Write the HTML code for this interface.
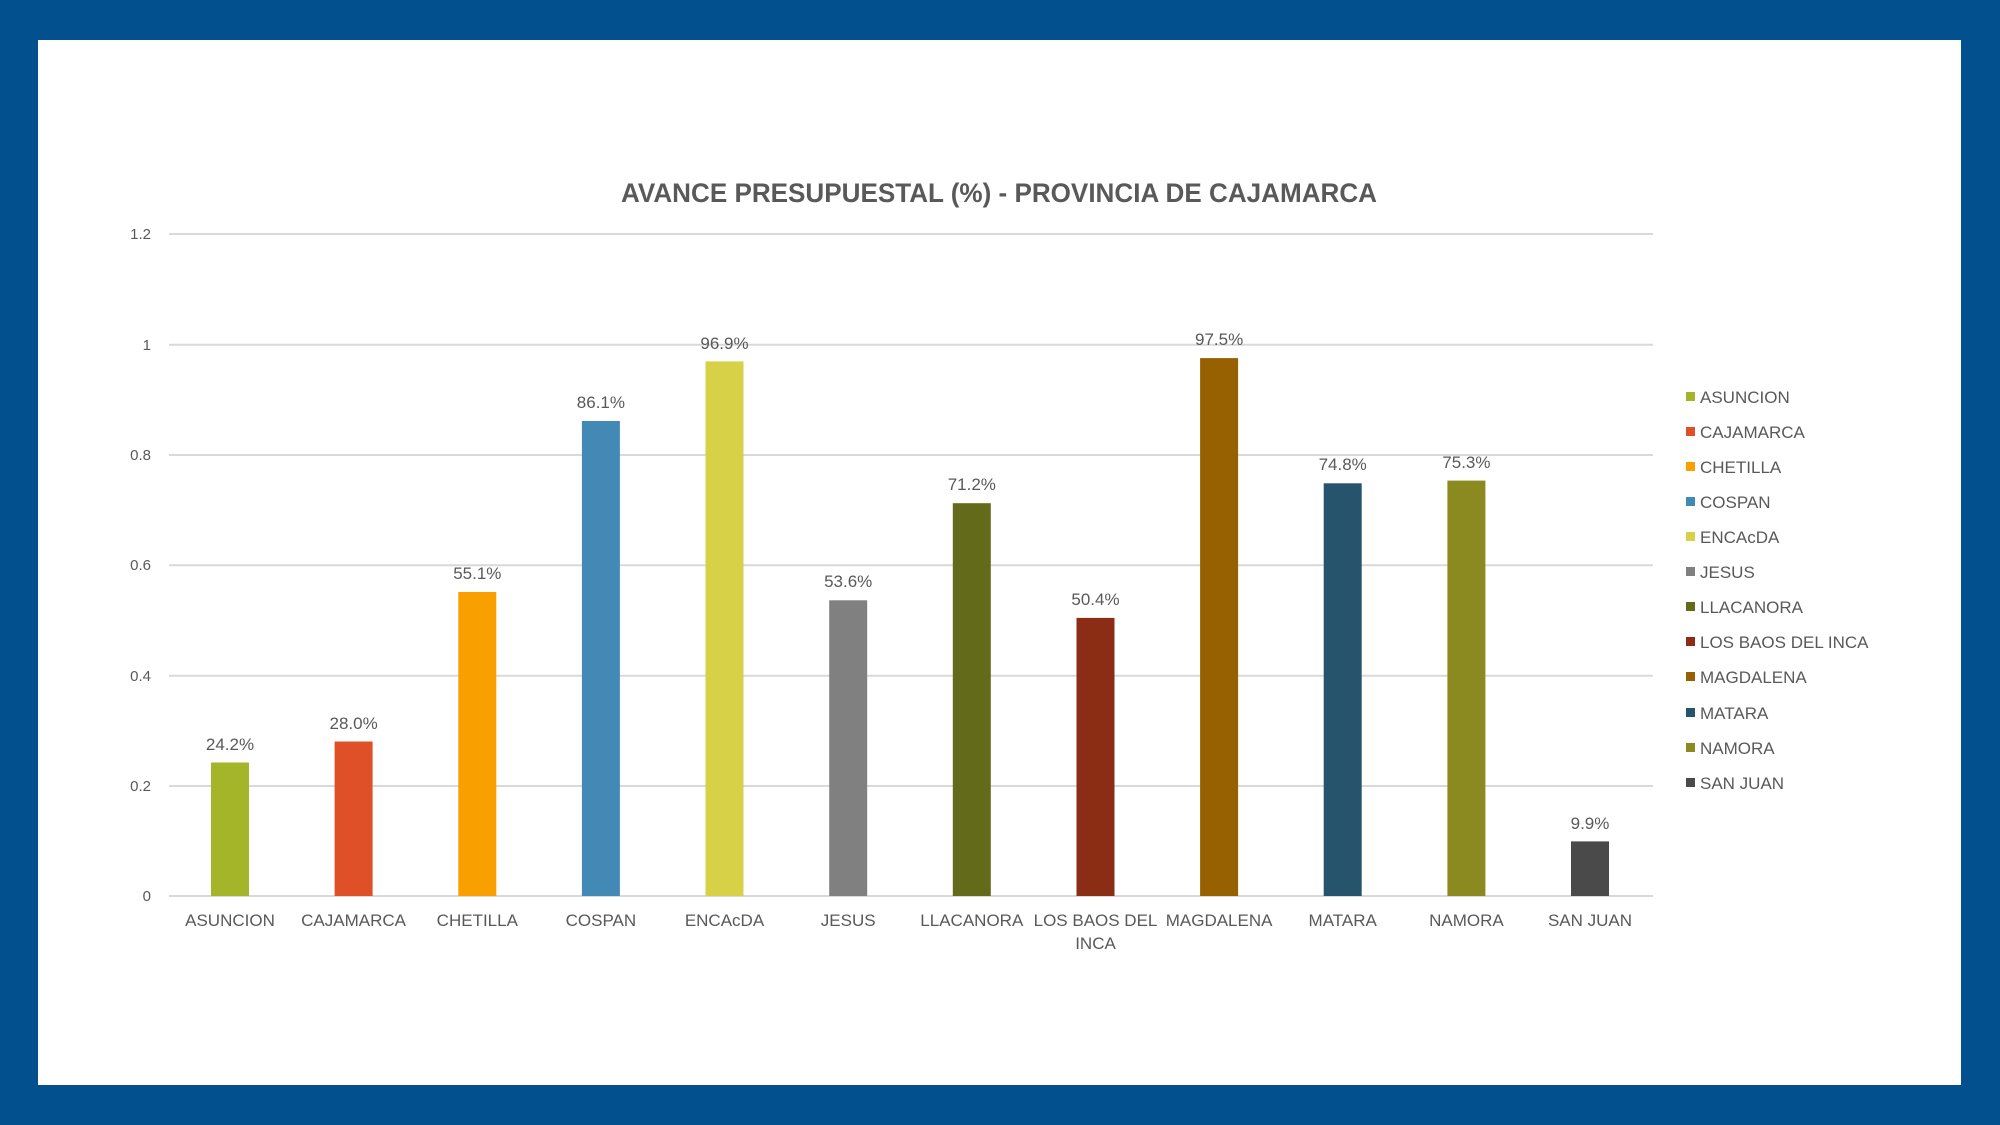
<!DOCTYPE html>
<html><head><meta charset="utf-8"><style>
html,body{margin:0;padding:0;width:2000px;height:1125px;overflow:hidden;background:#03508f}
svg{display:block}
text{font-family:"Liberation Sans",sans-serif;fill:#595959}
</style></head><body>
<svg width="2000" height="1125" viewBox="0 0 2000 1125">
<rect x="0" y="0" width="2000" height="1125" fill="#03508f"/>
<rect x="38" y="40" width="1923" height="1045" fill="#fff"/>
<text x="999" y="202" text-anchor="middle" font-size="27" font-weight="bold" textLength="756" lengthAdjust="spacingAndGlyphs">AVANCE PRESUPUESTAL (%) - PROVINCIA DE CAJAMARCA</text>
<g stroke="#d9d9d9" stroke-width="2">
<line x1="169" x2="1653" y1="234" y2="234"/>
<line x1="169" x2="1653" y1="344.7" y2="344.7"/>
<line x1="169" x2="1653" y1="455" y2="455"/>
<line x1="169" x2="1653" y1="565.3" y2="565.3"/>
<line x1="169" x2="1653" y1="675.7" y2="675.7"/>
<line x1="169" x2="1653" y1="786" y2="786"/>
<line x1="169" x2="1653" y1="896" y2="896"/>
</g>
<g font-size="15" text-anchor="end">
<text x="151" y="239">1.2</text>
<text x="151" y="350">1</text>
<text x="151" y="460">0.8</text>
<text x="151" y="570">0.6</text>
<text x="151" y="681">0.4</text>
<text x="151" y="791">0.2</text>
<text x="151" y="901">0</text>
</g>
<g>
<rect x="211" y="762.5" width="38" height="133.5" fill="#a5b52a"/>
<rect x="334.6" y="741.5" width="38" height="154.5" fill="#e05028"/>
<rect x="458.3" y="592" width="38" height="304" fill="#f9a000"/>
<rect x="581.9" y="421" width="38" height="475" fill="#4389b5"/>
<rect x="705.5" y="361.4" width="38" height="534.6" fill="#d6d146"/>
<rect x="829.2" y="600.3" width="38" height="295.7" fill="#808080"/>
<rect x="952.8" y="503.2" width="38" height="392.8" fill="#636b1b"/>
<rect x="1076.5" y="617.9" width="38" height="278.1" fill="#8a2d14"/>
<rect x="1200.1" y="358.1" width="38" height="537.9" fill="#976000"/>
<rect x="1323.7" y="483.3" width="38" height="412.7" fill="#26546c"/>
<rect x="1447.4" y="480.6" width="38" height="415.4" fill="#8b8a21"/>
<rect x="1571" y="841.4" width="38" height="54.6" fill="#4a4a4a"/>
</g>
<g font-size="17" text-anchor="middle" style="fill:#404040">
<text x="230" y="750">24.2%</text>
<text x="353.6" y="729">28.0%</text>
<text x="477.3" y="579">55.1%</text>
<text x="600.9" y="408">86.1%</text>
<text x="724.5" y="349">96.9%</text>
<text x="848.2" y="587">53.6%</text>
<text x="971.8" y="490">71.2%</text>
<text x="1095.5" y="605">50.4%</text>
<text x="1219.1" y="345">97.5%</text>
<text x="1342.7" y="470">74.8%</text>
<text x="1466.4" y="468">75.3%</text>
<text x="1590" y="829">9.9%</text>
</g>
<g font-size="17" text-anchor="middle">
<text x="230" y="926">ASUNCION</text>
<text x="353.6" y="926">CAJAMARCA</text>
<text x="477.3" y="926">CHETILLA</text>
<text x="600.9" y="926">COSPAN</text>
<text x="724.5" y="926">ENCAcDA</text>
<text x="848.2" y="926">JESUS</text>
<text x="971.8" y="926">LLACANORA</text>
<text x="1095.5" y="926">LOS BAOS DEL</text>
<text x="1095.5" y="949">INCA</text>
<text x="1219.1" y="926">MAGDALENA</text>
<text x="1342.7" y="926">MATARA</text>
<text x="1466.4" y="926">NAMORA</text>
<text x="1590" y="926">SAN JUAN</text>
</g>
<g font-size="17">
<rect x="1686" y="392" width="9" height="9" fill="#a5b52a"/><text x="1700" y="403">ASUNCION</text>
<rect x="1686" y="427" width="9" height="9" fill="#e05028"/><text x="1700" y="438">CAJAMARCA</text>
<rect x="1686" y="462" width="9" height="9" fill="#f9a000"/><text x="1700" y="473">CHETILLA</text>
<rect x="1686" y="497" width="9" height="9" fill="#4389b5"/><text x="1700" y="508">COSPAN</text>
<rect x="1686" y="532" width="9" height="9" fill="#d6d146"/><text x="1700" y="543">ENCAcDA</text>
<rect x="1686" y="567" width="9" height="9" fill="#808080"/><text x="1700" y="578">JESUS</text>
<rect x="1686" y="602" width="9" height="9" fill="#636b1b"/><text x="1700" y="613">LLACANORA</text>
<rect x="1686" y="637" width="9" height="9" fill="#8a2d14"/><text x="1700" y="648">LOS BAOS DEL INCA</text>
<rect x="1686" y="672" width="9" height="9" fill="#976000"/><text x="1700" y="683">MAGDALENA</text>
<rect x="1686" y="708" width="9" height="9" fill="#26546c"/><text x="1700" y="719">MATARA</text>
<rect x="1686" y="743" width="9" height="9" fill="#8b8a21"/><text x="1700" y="754">NAMORA</text>
<rect x="1686" y="778" width="9" height="9" fill="#4a4a4a"/><text x="1700" y="789">SAN JUAN</text>
</g>
</svg>
</body></html>
